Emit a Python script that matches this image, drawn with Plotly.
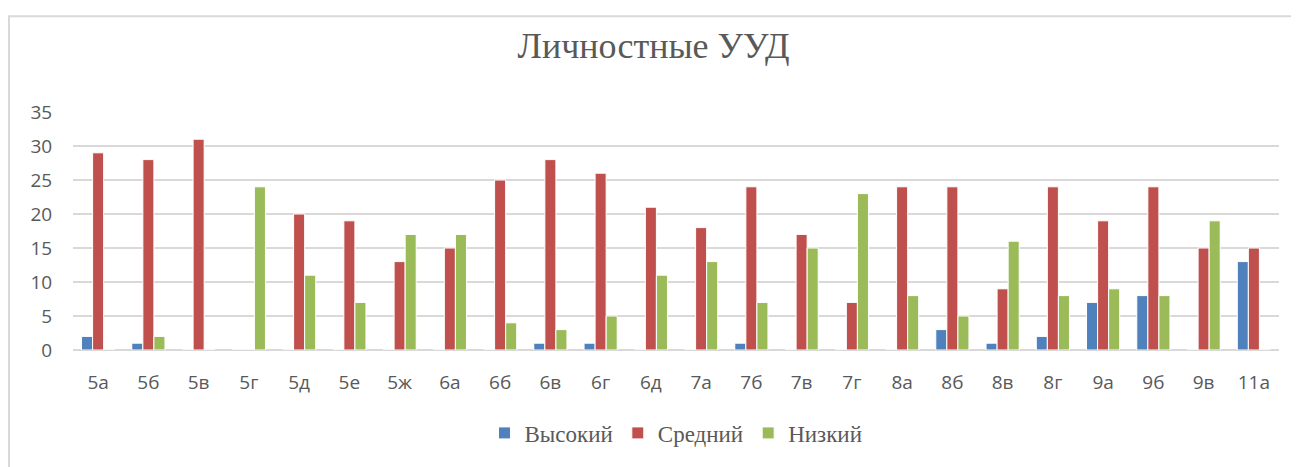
import plotly.graph_objects as go

classes = ['5а', '5б', '5в', '5г', '5д', '5е', '5ж', '6а', '6б', '6в', '6г', '6д',
           '7а', '7б', '7в', '7г', '8а', '8б', '8в', '8г', '9а', '9б', '9в', '11а']
high = [2, 1, 0, 0, 0, 0, 0, 0, 0, 1, 1, 0, 0, 1, 0, 0, 0, 3, 1, 2, 7, 8, 0, 13]
medium = [29, 28, 31, 0, 20, 19, 13, 15, 25, 28, 26, 21, 18, 24, 17, 7, 24, 24, 9, 24, 19, 24, 15, 15]
low = [0, 2, 0, 24, 11, 7, 17, 17, 4, 3, 5, 11, 13, 7, 15, 23, 8, 5, 16, 8, 9, 8, 19, 0]

fig = go.Figure()
fig.add_trace(go.Bar(x=classes, y=high, name='Высокий', marker=dict(color='#4F81BD', line=dict(color='white', width=1))))
fig.add_trace(go.Bar(x=classes, y=medium, name='Средний', marker=dict(color='#C0504D', line=dict(color='white', width=1))))
fig.add_trace(go.Bar(x=classes, y=low, name='Низкий', marker=dict(color='#9BBB59', line=dict(color='white', width=1))))

# рамка диаграммы (страница сдвинута на 8px отступом body)
fig.add_shape(type='rect', xref='paper', yref='paper',
              x0=1 / 1206 - 65 / 1206, x1=1.1, y0=-0.6, y1=(345 - 7) / 241,
              line=dict(color='#D9D9D9', width=2), layer='below')

fig.update_layout(
    width=1291, height=459,
    margin=dict(l=65, r=20, t=104, b=114),
    plot_bgcolor='white', paper_bgcolor='white',
    barmode='group', bargap=0.34, bargroupgap=0.0,
    title=dict(text='Личностные УУД', x=0.5, xanchor='center', y=1 - 37 / 459, yanchor='middle',
               font=dict(family='Liberation Serif', size=36, color='#595959')),
    showlegend=True,
    legend=dict(orientation='h', x=0.5, xanchor='center', y=(345 - 429) / 241, yanchor='middle',
                font=dict(family='Liberation Serif', size=23, color='#595959'),
                itemwidth=30),
    font=dict(family='Open Sans', size=18, color='#595959'),
)
fig.update_xaxes(showgrid=False, showline=False, ticks='outside', ticklen=15,
                 tickcolor='rgba(0,0,0,0)', tickfont=dict(size=19, color='#595959'))
fig.update_yaxes(range=[0, 35], dtick=5, showgrid=True, gridcolor='#D9D9D9', gridwidth=2,
                 zeroline=True, zerolinecolor='#D9D9D9', zerolinewidth=2,
                 showline=False, ticks='outside', ticklen=16, tickcolor='rgba(0,0,0,0)',
                 tickfont=dict(size=19, color='#595959'))

fig.write_html('out.html')
